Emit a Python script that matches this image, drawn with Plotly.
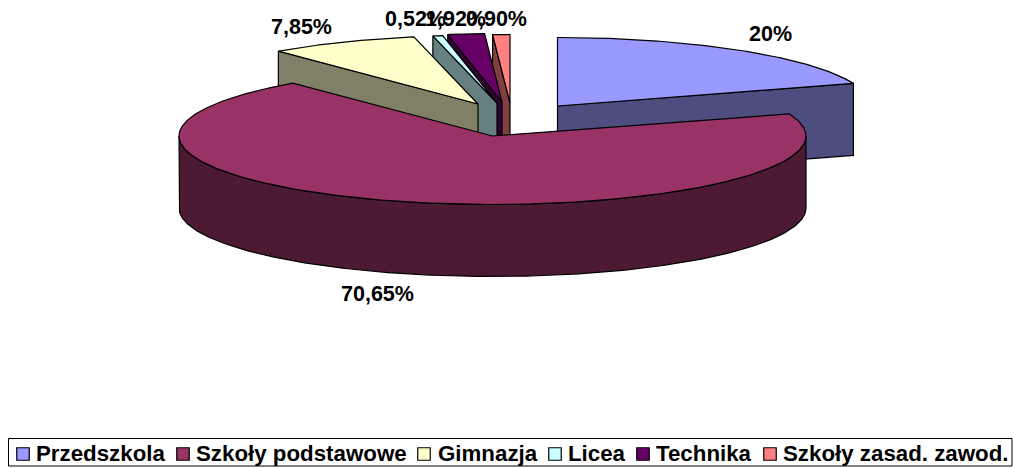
import math
import plotly.graph_objects as go

categories = ["Przedszkola", "Szkoły podstawowe", "Gimnazja", "Licea", "Technika", "Szkoły zasad. zawod."]
values = [20, 70.65, 7.85, 0.52, 1.92, 0.90]
value_labels = ["20%", "70,65%", "7,85%", "0,52%", "1,92%", "0,90%"]

top_colors = ["#9999FF", "#993366", "#FFFFCC", "#CCFFFF", "#660066", "#FF8080"]
side_colors = ["#4D4D80", "#4D1A33", "#808066", "#668080", "#330033", "#804040"]

# pie geometry on a pixel-sized plane
RX, RY, DEPTH = 313.5, 68.5, 72
apex = [(557.5, 106), (492.5, 136), (478, 104), (497, 103), (502, 102), (510, 103)]
draw_order = [0, 5, 4, 3, 2, 1]
label_xy = [(770, 34), (377, 294), (301, 27), (415, 19), (455, 19), (496, 19)]
legend_swatch_x = [23, 183, 424, 555, 643, 770]
legend_text_x = [36, 196, 438, 568, 656, 783]
LEGEND_Y = 453

total = sum(values)
angles = [0]
for v in values:
    angles.append(angles[-1] + v / total * 360)


def pt(c, t, dy=0):
    r = math.radians(t)
    return c[0] + RX * math.sin(r), c[1] - RY * math.cos(r) + dy


def arc(c, a, b, dy=0):
    n = max(2, int(abs(b - a) * 2))
    return [pt(c, a + (b - a) * i / n, dy) for i in range(n + 1)]


fig = go.Figure()


def poly(points, color, name):
    xs = [p[0] for p in points] + [points[0][0]]
    ys = [p[1] for p in points] + [points[0][1]]
    fig.add_trace(go.Scatter(x=xs, y=ys, mode="lines", fill="toself", fillcolor=color,
                             line=dict(color="black", width=1.2), name=name,
                             showlegend=False, hoverinfo="name"))


for i in draw_order:
    c, a, b = apex[i], angles[i], angles[i + 1]
    name = categories[i]
    if i == 1:
        # outer wall of the big slice, visible from 90° to 270°
        upper = arc(c, 90, 270)
        lower = arc(c, 270, 90, DEPTH)
        poly(upper + lower, side_colors[i], name)
    elif i == 0:
        # cut face at the slice's end edge
        e = pt(c, b)
        poly([c, e, (e[0], e[1] + DEPTH), (c[0], c[1] + DEPTH)], side_colors[i], name)
    else:
        # cut face at the slice's start edge
        s = pt(c, a)
        poly([s, c, (c[0], c[1] + DEPTH), (s[0], s[1] + DEPTH)], side_colors[i], name)
    poly([c] + arc(c, a, b), top_colors[i], name)

LABEL_FONT = dict(family="Liberation Sans", size=21.5, color="black", weight="bold")
LEGEND_FONT = dict(family="Liberation Sans", size=22.3, color="black", weight="bold")
annotations = [dict(x=x, y=y, text=f"<b>{t}</b>", showarrow=False, font=LABEL_FONT,
                    xanchor="center", yanchor="middle")
               for (x, y), t in zip(label_xy, value_labels)]

for x, name in zip(legend_text_x, categories):
    annotations.append(dict(x=x, y=LEGEND_Y, text=f"<b>{name}</b>", showarrow=False, font=LEGEND_FONT,
                            xanchor="left", yanchor="middle", xshift=-2))

fig.add_trace(go.Scatter(x=legend_swatch_x, y=[LEGEND_Y + 1] * 6, mode="markers",
                         marker=dict(symbol="square", size=12.5, color=top_colors,
                                     line=dict(color="black", width=1.2)),
                         showlegend=False, hoverinfo="skip"))

fig.update_layout(
    width=1013, height=468, margin=dict(l=0, r=0, t=0, b=0),
    paper_bgcolor="white", plot_bgcolor="white", showlegend=False,
    xaxis=dict(range=[0, 1013], visible=False, fixedrange=True),
    yaxis=dict(range=[468, 0], visible=False, fixedrange=True),
    annotations=annotations,
    shapes=[dict(type="rect", x0=8.5, x1=1012, y0=438.5, y1=466, line=dict(color="black", width=1),
                 fillcolor="rgba(0,0,0,0)", layer="below")],
)
fig.write_html("out.html", config=dict(displayModeBar=False),
               post_script="document.body.style.margin='0';document.documentElement.style.overflow='hidden';")
